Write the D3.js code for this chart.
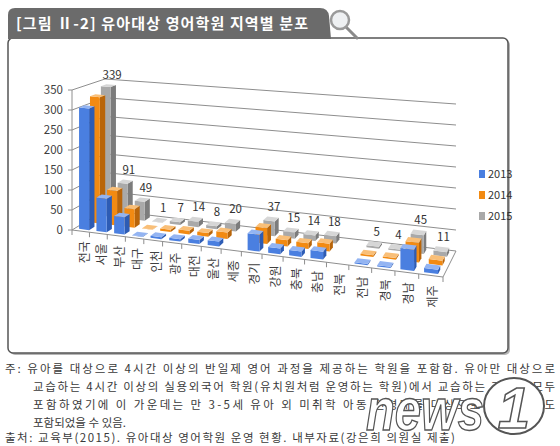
<!DOCTYPE html>
<html>
<head>
<meta charset="utf-8">
<script src="https://cdn.jsdelivr.net/npm/d3@7"></script>
<style>
  body { margin: 0; background: #fff; }
  svg { display: block; font-family: "Noto Sans CJK KR", "Noto Sans", sans-serif; }
</style>
</head>
<body>
<svg id="chart" width="560" height="446"></svg>
<script>
// data (2015 from labels, 2013/2014)
const regions = ['전국', '서울', '부산', '대구', '인천', '광주', '대전', '울산', '세종',
  '경기', '강원', '충북', '충남', '전북', '전남', '경북', '경남', '제주'];
const years = ['2013', '2014', '2015'];
const values2013 = [305, 84, 43, 1, 5, 6, 10, 12, null, 41, 14, 13, 19, null, 3, 3, 50, 10];
const values2014 = [323, 88, 47, 1, 6, 9, 9, 16, null, 39, 15, 14, 19, null, 4, 4, 47, 11];
const values2015 = [339, 91, 49, 1, 7, 14, 8, 20, null, 37, 15, 14, 18, null, 5, 4, 45, 11];
const yTicks = [0, 50, 100, 150, 200, 250, 300, 350];
const titleText = '[그림 Ⅱ-2] 유아대상 영어학원 지역별 분포';
const noteLines = [
  '주: 유아를 대상으로 4시간 이상의 반일제 영어 과정을 제공하는 학원을 포함함. 유아만 대상으로',
  '교습하는 4시간 이상의 실용외국어 학원(유치원처럼 운영하는 학원)에서 교습하는 기관을 모두',
  '포함하였기에 이 가운데는 만 3-5세 유아 외 미취학 아동 연령대를 대상으로 하는 학원도',
  '포함되었을 수 있음.'
];
const sourceText = '출처: 교육부(2015). 유아대상 영어학원 운영 현황. 내부자료(강은희 의원실 제출)';

const seriesValues = { '2013': values2013, '2014': values2014, '2015': values2015 };
const colors = {
  '2013': { front: '#4a7fe0', side: '#2d5cb5', top: '#93b4f2' },
  '2014': { front: '#f28a12', side: '#b9650a', top: '#f9bf78' },
  '2015': { front: '#a9a9a9', side: '#7c7c7c', top: '#d6d6d6' }
};

const svg = d3.select('#chart');

// frame: box with shadow, title tab
svg.append('rect').attr('x', 10).attr('y', 40).attr('width', 500).attr('height', 315)
  .attr('rx', 5).attr('fill', '#b5b5b5');
svg.append('rect').attr('x', 8).attr('y', 38).attr('width', 500).attr('height', 315)
  .attr('rx', 5).attr('fill', '#fff').attr('stroke', '#555').attr('stroke-width', 1.5);
svg.append('path')
  .attr('d', 'M8,39 V15 Q8,8 15,8 H320 Q328,8 329,16 L331,39 Z')
  .attr('fill', '#6b6b6b');
svg.append('text').attr('x', 16).attr('y', 29)
  .attr('fill', '#fff').attr('font-size', 15).attr('font-weight', 'bold')
  .attr('textLength', 292).attr('lengthAdjust', 'spacing')
  .text(titleText);

// magnifier icon
const mag = svg.append('g');
mag.append('line').attr('x1', 346).attr('y1', 27).attr('x2', 357).attr('y2', 38)
  .attr('stroke', '#8a8a8a').attr('stroke-width', 3).attr('stroke-linecap', 'round');
mag.append('circle').attr('cx', 340).attr('cy', 20).attr('r', 9)
  .attr('fill', '#eef0f2').attr('stroke', '#9a9a9a').attr('stroke-width', 2.5);

// pseudo-3D floor: corners on screen, wall height at each corner
const FL = [72, 230], FR = [443, 277], BL = [105, 210], BR = [456, 251];
const HFL = 140, HFR = 150, HBL = 131, HBR = 147;
// categories get wider towards the right (perspective)
const persp = t => 0.84 * t / (1 - 0.16 * t);

const x = d3.scaleBand().domain(regions).range([0, 1]).paddingInner(0.42).paddingOuter(0.25);
const z = d3.scaleBand().domain(years).range([0, 1]).paddingInner(0.5).paddingOuter(0.25);
const y = d3.scaleLinear().domain([0, 350]).range([0, 1]);

function bilerp(a, b, c, d, u, w) {
  return (1 - u) * (1 - w) * a + u * (1 - w) * b + (1 - u) * w * c + u * w * d;
}
function pt(u, w, v) {
  u = persp(u);
  const px = bilerp(FL[0], FR[0], BL[0], BR[0], u, w);
  const py = bilerp(FL[1], FR[1], BL[1], BR[1], u, w);
  const h = bilerp(HFL, HFR, HBL, HBR, u, w);
  return [px, py - y(v) * h];
}
const poly = pts => 'M' + pts.map(p => p.join(',')).join('L') + 'Z';
const seg = (a, b) => `M${a[0]},${a[1]}L${b[0]},${b[1]}`;

const grid = svg.append('g').attr('fill', 'none').attr('stroke', '#8e8e8e').attr('stroke-width', 1);
yTicks.forEach(t => {
  grid.append('path').attr('d', seg(pt(0, 0, t), pt(0, 1, t)));
  grid.append('path').attr('d', seg(pt(0, 1, t), pt(1, 1, t)));
});
grid.append('path').attr('d', seg(pt(1, 0, 0), pt(1, 1, 0)));

// value axis
const axis = svg.append('g').attr('stroke', '#8e8e8e');
axis.append('path').attr('d', seg(pt(0, 0, 0), pt(0, 0, 350)));
yTicks.forEach(t => {
  const p = pt(0, 0, t);
  axis.append('path').attr('d', seg([p[0] - 4, p[1]], p));
  svg.append('text').attr('x', p[0] - 9).attr('y', p[1]).attr('dy', '0.35em')
    .attr('text-anchor', 'end').attr('font-size', 11.5).attr('fill', '#404040')
    .text(t);
});

// category axis
axis.append('path').attr('d', seg(pt(0, 0, 0), pt(1, 0, 0)));
d3.range(regions.length + 1).forEach(i => {
  const p = pt(i / regions.length, 0, 0);
  axis.append('path').attr('d', seg(p, [p[0], p[1] + 5]));
});
regions.forEach(r => {
  const p = pt(x(r) + x.bandwidth() / 2, 0, 0);
  svg.append('text')
    .attr('transform', `translate(${p[0] + 3},${p[1] + 10}) rotate(-90)`)
    .attr('dy', '0.35em').attr('text-anchor', 'end')
    .attr('font-size', 12).attr('fill', '#404040')
    .text(r);
});

// bars, back row first
const bars = svg.append('g').attr('stroke', 'none');
years.slice().reverse().forEach(yr => {
  const c = colors[yr];
  regions.forEach((r, i) => {
    const v = seriesValues[yr][i];
    if (v == null) return;
    const u0 = x(r), u1 = u0 + x.bandwidth();
    const w0 = z(yr), w1 = w0 + z.bandwidth();
    bars.append('path').attr('fill', c.side)
      .attr('d', poly([pt(u1, w0, 0), pt(u1, w1, 0), pt(u1, w1, v), pt(u1, w0, v)]));
    bars.append('path').attr('fill', c.front)
      .attr('d', poly([pt(u0, w0, 0), pt(u1, w0, 0), pt(u1, w0, v), pt(u0, w0, v)]));
    bars.append('path').attr('fill', c.top)
      .attr('d', poly([pt(u0, w0, v), pt(u1, w0, v), pt(u1, w1, v), pt(u0, w1, v)]));
  });
});

// labels on the 2015 series
regions.forEach((r, i) => {
  const v = values2015[i];
  if (v == null) return;
  const p = pt(x(r) + x.bandwidth() / 2, z('2015') + z.bandwidth(), v);
  svg.append('text').attr('x', p[0] + 1).attr('y', p[1] - 6)
    .attr('text-anchor', 'middle').attr('font-size', 11.5).attr('fill', '#333')
    .text(v);
});

// legend
years.forEach((yr, i) => {
  const cy = 174 + i * 21;
  svg.append('rect').attr('x', 479).attr('y', cy - 4).attr('width', 6).attr('height', 8)
    .attr('fill', colors[yr].front);
  svg.append('text').attr('x', 488).attr('y', cy).attr('dy', '0.35em')
    .attr('font-size', 11).attr('fill', '#333').text(yr);
});

// notes below the box
const notes = svg.append('g').attr('font-size', 11.5).attr('fill', '#3a3a3a');
noteLines.forEach((line, i) => {
  const t = notes.append('text').attr('x', i === 0 ? 5 : 33).attr('y', 373 + i * 18).text(line);
  if (i < 3) t.attr('textLength', i === 0 ? 550 : 522).attr('lengthAdjust', 'spacing');
});
notes.append('text').attr('x', 5).attr('y', 442)
  .attr('textLength', 450).attr('lengthAdjust', 'spacing').text(sourceText);

// news1 watermark
const wm = svg.append('g');
wm.append('text').attr('x', 366).attr('y', 430)
  .attr('font-family', 'Liberation Sans, sans-serif').attr('font-size', 60)
  .attr('font-style', 'italic').attr('font-weight', 'bold')
  .attr('fill', '#fff').attr('stroke', '#555').attr('stroke-width', 1.5)
  .attr('textLength', 118).attr('lengthAdjust', 'spacingAndGlyphs')
  .text('news');
wm.append('ellipse').attr('cx', 514).attr('cy', 406).attr('rx', 30).attr('ry', 28)
  .attr('fill', '#fff').attr('stroke', '#555').attr('stroke-width', 2);
wm.append('text').attr('x', 514).attr('y', 428).attr('text-anchor', 'middle')
  .attr('font-family', 'Liberation Sans, sans-serif').attr('font-size', 58)
  .attr('font-style', 'italic').attr('font-weight', 'bold')
  .attr('fill', '#fff').attr('stroke', '#555').attr('stroke-width', 1.5)
  .text('1');
</script>
</body>
</html>
